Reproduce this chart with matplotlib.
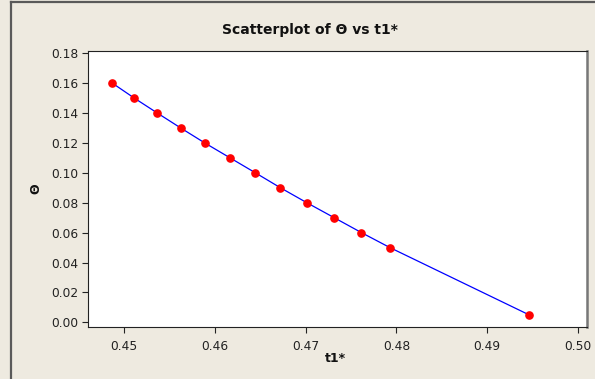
import matplotlib
matplotlib.use("Agg")
import matplotlib.pyplot as plt
from matplotlib.lines import Line2D

t1 = [0.44868, 0.45110, 0.45364, 0.45622, 0.45887, 0.46166, 0.46445,
      0.46721, 0.47012, 0.47313, 0.47614, 0.47927, 0.49461]
theta = [0.16, 0.15, 0.14, 0.13, 0.12, 0.11, 0.10,
         0.09, 0.08, 0.07, 0.06, 0.05, 0.005]
xticks = [0.45, 0.46, 0.47, 0.48, 0.49, 0.50]
yticks = [0.00, 0.02, 0.04, 0.06, 0.08, 0.10, 0.12, 0.14, 0.16, 0.18]

W, H = 595, 379
bg = "#EEEAE0"
fig = plt.figure(figsize=(W / 100, H / 100), dpi=100, facecolor=bg)

# figure frame (partly cropped)
fig.add_artist(Line2D([11 / W, 11 / W], [0, 1 - 1.5 / H], color="#5a5a5a", lw=1.6,
                      transform=fig.transFigure))
fig.add_artist(Line2D([11 / W, 1], [1 - 1.5 / H, 1 - 1.5 / H], color="#5a5a5a", lw=1.6,
                      transform=fig.transFigure))

left, right, top, bottom = 88, 587, 50.7, 327
ax = fig.add_axes([left / W, (H - bottom) / H, (right - left) / W, (bottom - top) / H])
ax.set_facecolor("white")

ax.plot(t1, theta, color="#0000FF", lw=0.9, zorder=2)
ax.plot(t1, theta, linestyle="none", marker="o", markersize=5.2,
        markerfacecolor="#FF0000", markeredgecolor="#FF0000", zorder=3)

ax.set_xlim(0.4460, 0.5010)
ax.set_ylim(-0.00315, 0.1817)
ax.set_xticks(xticks)
ax.set_xticklabels([f"{v:.2f}" for v in xticks])
ax.set_yticks(yticks)
ax.set_yticklabels([f"{v:.2f}" for v in yticks])
ax.tick_params(axis="both", direction="out", length=4, width=0.8, colors="#222222",
               labelsize=8.8, pad=3)
ax.tick_params(axis="x", pad=5)

for s in ["left", "bottom", "top"]:
    ax.spines[s].set_color("#222222")
    ax.spines[s].set_linewidth(0.8)
ax.spines["right"].set_color("#777777")
ax.spines["right"].set_linewidth(1.8)

fig.text(310 / W, 1 - 30 / H, "Scatterplot of \u0398 vs t1*", ha="center", va="center",
         fontsize=10, fontweight="bold", color="#111111")
fig.text(335 / W, 1 - 358 / H, "t1*", ha="center", va="center",
         fontsize=9, fontweight="bold", color="#111111")
fig.text(36 / W, 1 - 189 / H, "\u0398", ha="center", va="center", rotation=90,
         fontsize=9, fontweight="bold", color="#111111")

fig.savefig("out.png", dpi=100, facecolor=bg)
